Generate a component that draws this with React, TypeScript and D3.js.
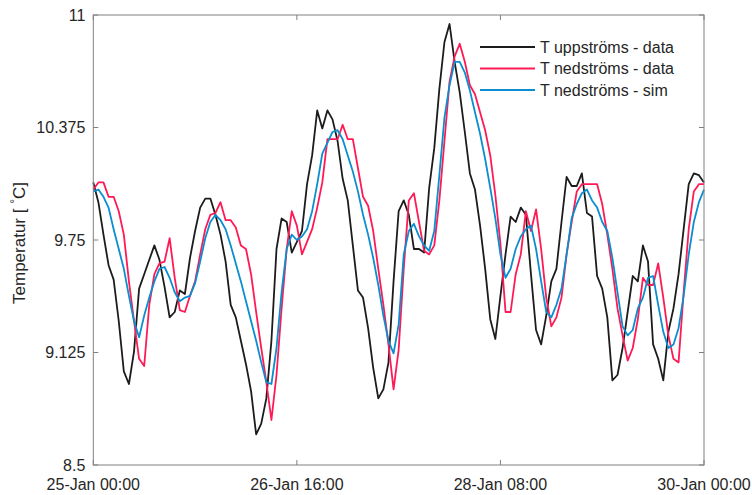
import React from "react";
import * as d3 from "d3";

// Hourly samples, 25-Jan 00:00 to 30-Jan 00:00
const hours: number[] = d3.range(0, 121);

const upstreamData: number[] = [
  10.07, 9.96, 9.78, 9.61, 9.53, 9.30, 9.02, 8.95, 9.13, 9.48,
  9.56, 9.64, 9.72, 9.64, 9.49, 9.32, 9.35, 9.47, 9.45, 9.65,
  9.80, 9.93, 9.98, 9.98, 9.89, 9.78, 9.63, 9.39, 9.32, 9.19,
  9.06, 8.91, 8.67, 8.73, 8.87, 9.19, 9.70, 9.87, 9.85, 9.68,
  9.74, 9.80, 10.06, 10.22, 10.47, 10.37, 10.47, 10.42, 10.30, 10.09,
  9.97, 9.72, 9.47, 9.43, 9.26, 9.04, 8.87, 8.92, 9.07, 9.52,
  9.91, 9.97, 9.89, 9.70, 9.70, 9.68, 10.04, 10.26, 10.59, 10.85,
  10.95, 10.74, 10.57, 10.35, 10.12, 10.03, 9.83, 9.59, 9.31, 9.20,
  9.44, 9.67, 9.88, 9.85, 9.93, 9.89, 9.56, 9.25, 9.17, 9.33,
  9.52, 9.59, 9.85, 10.10, 10.05, 10.05, 10.12, 9.90, 9.88, 9.55,
  9.48, 9.32, 8.97, 9.00, 9.15, 9.35, 9.55, 9.52, 9.72, 9.63,
  9.17, 9.09, 8.97, 9.24, 9.37, 9.56, 9.81, 10.06, 10.12, 10.11,
  10.07,
];

const downstreamData: number[] = [
  10.03, 10.07, 10.07, 9.99, 9.99, 9.91, 9.78, 9.52, 9.30, 9.09,
  9.05, 9.39, 9.56, 9.62, 9.63, 9.76, 9.54, 9.36, 9.35, 9.44,
  9.52, 9.67, 9.81, 9.89, 9.90, 9.96, 9.86, 9.86, 9.82, 9.72,
  9.70, 9.56, 9.35, 9.15, 8.96, 8.75, 9.00, 9.37, 9.70, 9.91,
  9.83, 9.67, 9.74, 9.81, 9.93, 10.07, 10.31, 10.31, 10.31, 10.39,
  10.31, 10.31, 10.15, 9.99, 9.94, 9.80, 9.59, 9.39, 9.17, 8.92,
  9.14, 9.59, 9.97, 10.01, 9.85, 9.69, 9.67, 9.72, 9.97, 10.30,
  10.63, 10.77, 10.84, 10.74, 10.61, 10.56, 10.46, 10.36, 10.22, 10.00,
  9.73, 9.35, 9.35, 9.56, 9.67, 9.91, 9.80, 9.92, 9.70, 9.43,
  9.27, 9.32, 9.43, 9.67, 9.85, 10.02, 10.06, 10.06, 10.06, 10.06,
  9.95, 9.78, 9.59, 9.37, 9.22, 9.08, 9.15, 9.31, 9.54, 9.50,
  9.50, 9.62, 9.43, 9.22, 9.09, 9.07, 9.46, 9.81, 10.02, 10.06,
  10.06,
];

const downstreamSim: number[] = [
  10.02, 10.03, 9.99, 9.93, 9.81, 9.70, 9.59, 9.44, 9.30, 9.21,
  9.33, 9.43, 9.52, 9.59, 9.60, 9.54, 9.46, 9.41, 9.43, 9.44,
  9.51, 9.63, 9.76, 9.85, 9.89, 9.86, 9.81, 9.72, 9.62, 9.52,
  9.41, 9.30, 9.19, 9.07, 8.96, 8.95, 9.15, 9.46, 9.70, 9.78,
  9.75, 9.77, 9.81, 9.91, 10.06, 10.23, 10.29, 10.35, 10.36, 10.31,
  10.22, 10.13, 10.02, 9.89, 9.78, 9.65, 9.50, 9.33, 9.19, 9.12,
  9.28, 9.67, 9.80, 9.84, 9.77, 9.72, 9.69, 9.80, 10.11, 10.43,
  10.61, 10.74, 10.74, 10.68, 10.58, 10.46, 10.34, 10.20, 10.04, 9.87,
  9.67, 9.54, 9.59, 9.70, 9.77, 9.81, 9.83, 9.70, 9.52, 9.35,
  9.32, 9.39, 9.48, 9.67, 9.87, 9.95, 10.01, 10.03, 9.97, 9.93,
  9.85, 9.80, 9.65, 9.46, 9.27, 9.22, 9.25, 9.37, 9.43, 9.54,
  9.55, 9.39, 9.24, 9.15, 9.17, 9.26, 9.44, 9.67, 9.85, 9.96,
  10.03,
];

const seriesNames: string[] = [
  "T uppströms - data",
  "T nedströms - data",
  "T nedströms - sim",
];
const seriesColors: string[] = ["#1c1c1c", "#ff1a55", "#0a8ed0"];

const yTicks: number[] = [8.5, 9.125, 9.75, 10.375, 11];
const yTickLabels: string[] = ["8.5", "9.125", "9.75", "10.375", "11"];
const xTickHours: number[] = [0, 40, 80, 120];
const xTickLabels: string[] = ["25-Jan 00:00", "26-Jan 16:00", "28-Jan 08:00", "30-Jan 00:00"];
const yTitle = "Temperatur [ ";

const W = 752;
const H = 495;
const L = 93.3;
const R = 704;
const T = 15;
const B = 465;

export default function App() {
  const x = d3.scaleLinear().domain([0, 120]).range([L, R]);
  const y = d3.scaleLinear().domain([8.5, 11]).range([B, T]);
  const line = d3
    .line<number>()
    .x((_, i) => x(hours[i]))
    .y((d) => y(d));
  const allSeries = [upstreamData, downstreamData, downstreamSim];
  const font = "'Liberation Sans', Arial, sans-serif";
  const textColor = "#262626";
  const axisColor = "#808080";
  const tickLen = 5;

  return (
    <svg
      width={W}
      height={H}
      style={{ position: "absolute", left: 0, top: 0, background: "#fff" }}
      fontFamily={font}
    >
      <rect x={0} y={0} width={W} height={H} fill="#fff" />
      {allSeries.map((s, i) => (
        <path
          key={i}
          d={line(s) || ""}
          fill="none"
          stroke={seriesColors[i]}
          strokeWidth={1.8}
          strokeLinejoin="round"
        />
      ))}
      <rect x={L} y={T} width={R - L} height={B - T} fill="none" stroke={axisColor} strokeWidth={1} />
      {yTicks.map((t, i) => (
        <g key={"y" + i}>
          <line x1={L} x2={L + tickLen} y1={y(t)} y2={y(t)} stroke={axisColor} />
          <line x1={R} x2={R - tickLen} y1={y(t)} y2={y(t)} stroke={axisColor} />
          <text
            x={L - 8}
            y={y(t)}
            dy="0.35em"
            textAnchor="end"
            fontSize={16}
            fill={textColor}
          >
            {yTickLabels[i]}
          </text>
        </g>
      ))}
      {xTickHours.map((h, i) => (
        <g key={"x" + i}>
          <line x1={x(h)} x2={x(h)} y1={B} y2={B - tickLen} stroke={axisColor} />
          <line x1={x(h)} x2={x(h)} y1={T} y2={T + tickLen} stroke={axisColor} />
          <text x={x(h)} y={490} textAnchor="middle" fontSize={16} fill={textColor}>
            {xTickLabels[i]}
          </text>
        </g>
      ))}
      <text
        transform={`translate(25, ${(T + B) / 2 + 3}) rotate(-90)`}
        textAnchor="middle"
        fontSize={17}
        fill={textColor}
      >
        {yTitle}
        <tspan dy={-6} fontSize={12}>°</tspan>
        <tspan dy={6}>C]</tspan>
      </text>
      {seriesNames.map((n, i) => {
        const ly = 47 + i * 21.5;
        return (
          <g key={"l" + i}>
            <line x1={480} x2={535} y1={ly} y2={ly} stroke={seriesColors[i]} strokeWidth={1.8} />
            <text x={540} y={ly} dy="0.35em" fontSize={16} fill={textColor}>
              {n}
            </text>
          </g>
        );
      })}
    </svg>
  );
}
